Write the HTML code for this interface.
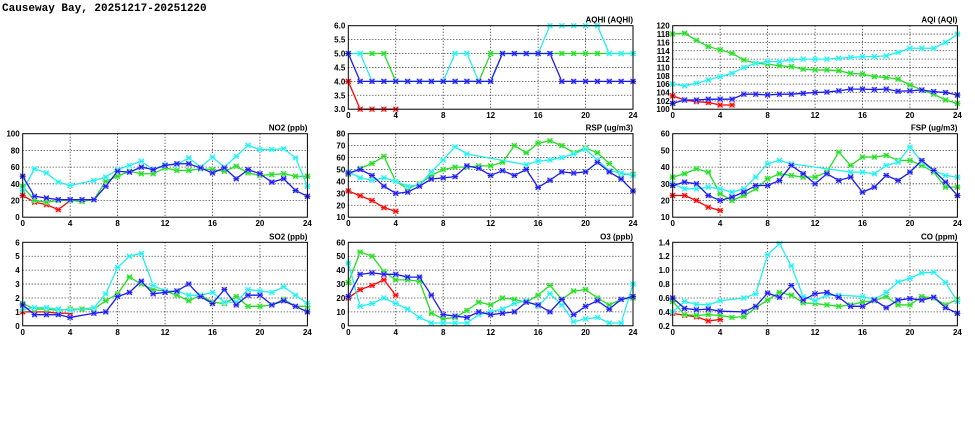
<!DOCTYPE html>
<html><head><meta charset="utf-8"><style>
html,body{margin:0;padding:0;background:#fff;width:975px;height:447px;overflow:hidden}
svg{display:block}
text{font-family:"Liberation Sans",sans-serif;font-weight:bold;font-size:8px;fill:#000}
</style></head><body>
<svg id="s" width="975" height="447" xmlns="http://www.w3.org/2000/svg">
<text x="2" y="11" style="font-family:'Liberation Mono',monospace;font-size:11px;font-weight:bold">Causeway Bay, 20251217-20251220</text>
</svg>
<script>
const N=null;
const panels=[
{x:348.3,y:25.7,t:"AQHI (AQHI)",min:3,max:6,ticks:[3,3.5,4,4.5,5,5.5,6],fmt:v=>v.toFixed(1),
 s:[[4,3,3,3,3],
 [5,5,5,5,4,4,4,4,4,4,4,4,5,5,5,5,5,5,5,5,5,5,5,5,5],
 [5,5,4,4,4,4,4,4,4,5,5,4,4,5,5,5,5,6,6,6,6,6,5,5,5],
 [5,4,4,4,4,4,4,4,4,4,4,4,4,5,5,5,5,5,4,4,4,4,4,4,4]]},
{x:672.7,y:25.7,t:"AQI (AQI)",min:100,max:120,ticks:[100,102,104,106,108,110,112,114,116,118,120],fmt:v=>v,
 s:[[103.2,102.2,101.8,101.6,101,101],
 [118,118.2,116.5,115,114.2,113.4,111.8,111,110.8,110.4,110.2,109.6,109.4,109.4,109.2,108.6,108.4,107.8,107.6,107.2,105.8,104.6,103.6,102.2,101.4],
 [106,105.6,106.2,107,107.8,108.6,110,111,111.4,111.4,111.8,112,112,112,112.2,112.4,112.6,112.6,112.8,113.6,114.6,114.6,114.6,116,118],
 [101.4,102.2,102.2,102.4,102.4,102.4,103.6,103.6,103.4,103.6,103.6,103.8,104,104.1,104.4,104.8,104.8,104.7,104.8,104.3,104.4,104.6,104.2,104,103.4]]},
{x:22.7,y:133.7,t:"NO2 (ppb)",min:0,max:100,ticks:[0,20,40,60,80,100],fmt:v=>v,
 s:[[26,18,15,9,20],
 [37,20,18,20,20,19,21,43,49,55,52,52,59,56,56,58,57,55,61,53,50,51,52,49,49],
 [32,58,53,42,38,N,44,48,57,62,67,57,63,63,71,60,72,60,73,86,81,81,82,71,37],
 [49,25,23,21,21,21,21,37,55,54,60,57,62,64,64,59,53,59,46,57,52,42,46,32,25]]},
{x:348.3,y:133.7,t:"RSP (ug/m3)",min:10,max:80,ticks:[10,20,30,40,50,60,70,80],fmt:v=>v,
 s:[[32,28,24,18,15],
 [46,51,55,61,40,34,38,45,50,52,52,53,53,56,70,64,72,74,70,64,68,64,55,46,46],
 [48,43,41,43,40,36,37,48,58,69,63,N,N,N,N,54,57,58,60,63,67,58,49,47,45],
 [47,50,45,36,30,31,36,42,43,44,53,51,45,49,45,50,35,41,48,47,48,56,48,42,32]]},
{x:672.7,y:133.7,t:"FSP (ug/m3)",min:10,max:60,ticks:[10,20,30,40,50,60],fmt:v=>v,
 s:[[23,23,20,16,14],
 [34,36,39,37,24,20,23,27,33,36,35,34,34,37,49,41,46,46,47,44,44,41,37,28,28],
 [30,27,27,28,27,25,27,34,42,44,42,N,N,N,N,37,37,36,41,43,52,43,38,35,34],
 [29,31,30,23,20,22,25,29,29,32,41,36,30,36,32,34,25,28,35,32,37,44,38,31,23]]},
{x:22.7,y:242.3,t:"SO2 (ppb)",min:0,max:6,ticks:[0,1,2,3,4,5,6],fmt:v=>v,
 s:[[1,1,1,0.9,0.9],
 [1.6,1.2,1.2,1.1,1.2,1.2,1.2,1.8,2.3,3.5,3,2.6,2.5,2.2,1.8,2.2,1.7,1.6,2.1,1.4,1.4,1.5,1.9,1.4,1.4],
 [1.2,1.3,1.3,1.2,1.1,N,1.3,2.3,4.2,5,5.2,2.9,2.5,2.5,2.2,2.2,2.4,1.7,1.7,2.6,2.5,2.4,2.8,2.2,1.6],
 [1.5,0.8,0.8,0.8,0.6,N,0.9,1,2.1,2.4,3.2,2.3,2.4,2.5,3,2.1,1.6,2.6,1.5,2.2,2.2,1.5,1.8,1.4,1]]},
{x:348.3,y:242.3,t:"O3 (ppb)",min:0,max:60,ticks:[0,10,20,30,40,50,60],fmt:v=>v,
 s:[[20,26,29,33,22],
 [31,53,50,39,33,33,32,9,5,6,11,17,15,20,19,17,22,29,19,25,26,20,15,19,20],
 [45,14,16,20,16,12,6,2,2,2,2,8,10,12,16,18,14,23,15,3,5,6,2,2,30],
 [21,37,38,37,37,35,35,22,8,7,6,10,8,9,10,17,15,10,19,8,14,18,12,19,21]]},
{x:672.7,y:242.3,t:"CO (ppm)",min:0.2,max:1.4,ticks:[0.2,0.4,0.6,0.8,1.0,1.2,1.4],fmt:v=>v.toFixed(1),
 s:[[.38,.35,.33,.27,.29],
 [.55,.36,.35,.36,.35,.32,.33,.46,.57,.68,.64,.53,.52,.50,.48,.50,.54,.56,.62,.50,.50,.62,.60,.50,.58],
 [.40,.55,.51,.50,.56,N,.60,.66,1.22,1.38,1.06,.62,.56,.64,.64,N,.62,.58,.68,.83,.88,.96,.97,.82,.55],
 [.60,.45,.43,.44,.41,N,.40,.48,.67,.61,.78,.57,.66,.68,.61,.48,.48,.57,.46,.57,.59,.57,.61,.46,.38]]}
];
const cols=["#ff0000","#22dd22","#22eeee","#1a1aee"];
const lite=["#ff9999","#99ee99","#aaffff","#9999ff"];
const W=284.7,H=83.5;let o="";
for(const p of panels){
 const X=h=>p.x+h/24*W, Y=v=>p.y+H-(v-p.min)/(p.max-p.min)*H;
 o+=`<text x="${p.x+W}" y="${p.y-3}" text-anchor="end">${p.t}</text>`;
 for(const t of p.ticks){const y=Y(t);
  if(t!=p.min&&t!=p.max)o+=`<line x1="${p.x}" x2="${p.x+W}" y1="${y}" y2="${y}" stroke="#000" stroke-width="0.8" stroke-dasharray="1,2"/>`;
  o+=`<text x="${p.x-3}" y="${y+3}" text-anchor="end">${p.fmt(t)}</text>`;}
 for(let h=0;h<=24;h+=4){const x=X(h);
  if(h>0&&h<24)o+=`<line x1="${x}" x2="${x}" y1="${p.y}" y2="${p.y+H}" stroke="#000" stroke-width="0.8" stroke-dasharray="1,2"/>`;
  o+=`<text x="${x}" y="${p.y+H+9}" text-anchor="middle">${h}</text>`;}
 p.s.forEach((d,i)=>{let seg="",pts=[];
  d.forEach((v,h)=>{if(v!==null){pts.push([X(h),Y(v)]);}});
  o+=`<polyline fill="none" stroke="${cols[i]}" stroke-width="1.3" points="${pts.map(q=>q.join(",")).join(" ")}"/>`;
  for(const [x,y] of pts){o+=`<rect x="${x-2.5}" y="${y-2.5}" width="5" height="5" fill="${lite[i]}"/><path d="M${x-2.5} ${y-2.5}L${x+2.5} ${y+2.5}M${x-2.5} ${y+2.5}L${x+2.5} ${y-2.5}M${x-3} ${y}H${x+3}" stroke="${cols[i]}" stroke-width="1"/>`;}
 });
 o+=`<rect x="${p.x}" y="${p.y}" width="${W}" height="${H}" fill="none" stroke="#000" stroke-width="1"/>`;
}
document.getElementById("s").insertAdjacentHTML("beforeend",o);
</script>
</body></html>
